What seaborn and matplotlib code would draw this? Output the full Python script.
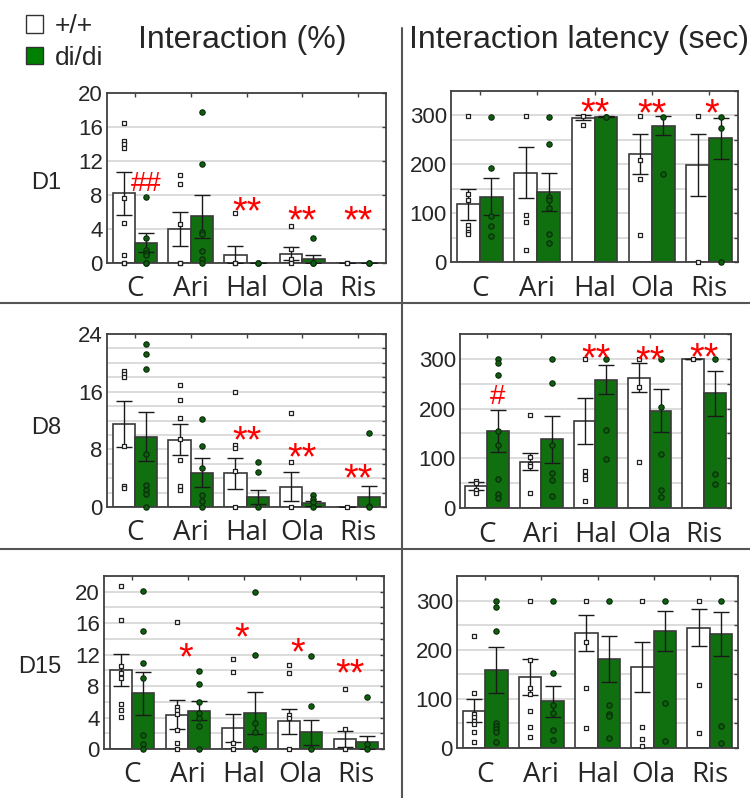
import matplotlib
matplotlib.use("Agg")
import matplotlib.pyplot as plt
import pandas as pd
import seaborn as sns
from matplotlib.container import BarContainer
from matplotlib.lines import Line2D
from matplotlib.patches import Patch
from matplotlib.ticker import MultipleLocator

W, H = 750, 798

DRUGS = ["C", "Ari", "Hal", "Ola", "Ris"]
GENOS = ["+/+", "di/di"]
ROW_LABELS = ["D1", "D8", "D15"]
COL_TITLES = ["Interaction (%)", "Interaction latency (sec)"]

GREEN = "#008000"
DOT_GREEN = "#0d5e0d"
EDGE = "#3a3a3a"

# ---- D1, interaction (%)
d1_int_wt = [8.2, 4.0, 1.0, 1.1, 0.0]
d1_int_wt_sem = [2.5, 2.0, 1.0, 0.75, 0.0]
d1_int_di = [2.4, 5.5, 0.0, 0.45, 0.05]
d1_int_di_sem = [1.1, 2.5, 0.0, 0.5, 0.0]
d1_int_wt_pts = [[16.5, 14.3, 14.0, 13.5, 7.7, 4.7, 1.0, 0, 0],
                 [10.4, 9.3, 4.6, 0, 0], [5.85, 0, 0], [4.4, 1.6, 0.5, 0], [0, 0]]
d1_int_di_pts = [[7.8, 3.0, 1.5, 1.2, 1.0, 0, 0],
                 [17.8, 11.6, 3.7, 3.45, 1.4, 0.5, 0], [0, 0], [3.0, 0, 0], [0, 0]]

# ---- D1, interaction latency (sec)
d1_lat_wt = [118, 183, 295, 221, 199]
d1_lat_wt_sem = [32, 53, 5, 40, 63]
d1_lat_di = [134, 143, 297, 279, 253]
d1_lat_di_sem = [37, 39, 1, 20, 42]
d1_lat_wt_pts = [[299, 140, 126, 75, 67, 61, 57], [299, 97, 81, 24],
                 [299, 281], [299, 209, 169, 56], [299, 0]]
d1_lat_di_pts = [[297, 192, 95, 73, 54], [297, 241, 134, 127, 110, 57, 38],
                 [297, 297], [297, 181], [297, 275, 0]]

# ---- D8, interaction (%)
d8_int_wt = [11.5, 9.3, 4.7, 2.8, 0.0]
d8_int_wt_sem = [3.15, 2.15, 2.15, 2.0, 0.0]
d8_int_di = [9.75, 4.75, 1.4, 0.5, 1.4]
d8_int_di_sem = [3.4, 2.0, 0.95, 0.35, 1.5]
d8_int_wt_pts = [[18.9, 18.4, 18.0, 8.4, 2.9, 2.7],
                 [16.9, 14.9, 12.3, 9.4, 6.5, 2.9, 2.4],
                 [16.0, 8.6, 8.2, 5.0, 0], [13.0, 6.2, 0], [0]]
d8_int_di_pts = [[22.6, 21.2, 19.2, 7.4, 3.0, 2.4, 1.85, 0],
                 [12.2, 8.4, 5.4, 1.7, 0.8, 0], [6.2, 4.8, 0],
                 [1.65, 1.15, 0.65, 0], [10.3, 0.2, 0]]

# ---- D8, interaction latency (sec)
d8_lat_wt = [44, 93, 175, 262, 300]
d8_lat_wt_sem = [8, 17, 47, 29, 0]
d8_lat_di = [155, 138, 258, 196, 231]
d8_lat_di_sem = [42, 47, 29, 44, 45]
d8_lat_wt_pts = [[54, 51, 37, 30], [187, 102, 89, 84, 30],
                 [300, 75, 65, 59, 15], [300, 243, 92], [300]]
d8_lat_di_pts = [[299, 291, 268, 155, 127, 59, 29, 20],
                 [299, 251, 127, 71, 57, 24], [299, 157, 99],
                 [299, 204, 109, 37, 22], [299, 68, 49]]

# ---- D15, interaction (%)
d15_int_wt = [10.05, 4.35, 2.65, 3.5, 1.3]
d15_int_wt_sem = [2.0, 1.85, 1.75, 1.6, 1.0]
d15_int_di = [7.1, 4.85, 4.6, 2.1, 0.85]
d15_int_di_sem = [2.75, 1.2, 2.65, 1.55, 0.85]
d15_int_wt_pts = [[20.7, 16.4, 10.5, 9.7, 9.0, 5.7, 4.9, 4.1],
                  [16.2, 5.3, 5.0, 4.4, 2.45, 0.8, 0],
                  [11.4, 9.85, 0.8, 0], [10.7, 9.7, 4.36, 3.9, 0], [7.6, 2.6, 0]]
d15_int_di_pts = [[20.1, 15.0, 10.9, 9.0, 1.8, 0.6, 0],
                  [9.9, 8.3, 6.0, 4.6, 3.9, 2.9, 0],
                  [20.0, 12.0, 3.3, 2.1, 0], [11.8, 5.45, 0], [6.6, 0.6, 0]]

# ---- D15, interaction latency (sec)
d15_lat_wt = [76, 145, 234, 165, 245]
d15_lat_wt_sem = [24, 37, 36, 51, 37]
d15_lat_di = [158, 95, 181, 238, 232]
d15_lat_di_sem = [47, 32, 47, 41, 45]
d15_lat_wt_pts = [[228, 112, 70, 64, 54, 49, 33, 12],
                  [300, 179, 123, 110, 76, 43, 23],
                  [300, 215, 123, 41], [300, 43, 19, 5], [300, 128, 30]]
d15_lat_di_pts = [[300, 286, 238, 51, 45, 39, 32, 12],
                  [300, 152, 88, 71, 37, 16],
                  [300, 87, 70, 66, 20], [300, 91, 14], [300, 44, 11]]

# significance marks: (drug index, x shift, y centre, text)
d1_int_marks = [(0, 0.2, 9.7, "##"), (2, 0, 7.2, "**"), (3, 0, 6.2, "**"), (4, 0, 6.2, "**")]
d1_lat_marks = [(2, 0, 327, "**"), (3, 0, 325, "**"), (4, 0.05, 325, "*")]
d8_int_marks = [(2, 0, 10.6, "**"), (3, 0, 8.2, "**"), (4, 0, 5.3, "**")]
d8_lat_marks = [(0, 0.2, 230, "#"), (2, 0, 320, "**"), (3, 0, 317, "**"), (4, 0, 322, "**")]
d15_int_marks = [(1, -0.05, 12.85, "*"), (2, -0.05, 15.5, "*"), (3, -0.05, 13.5, "*"), (4, -0.1, 10.9, "**")]
d15_lat_marks = []

panels = [
    (d1_int_wt, d1_int_wt_sem, d1_int_di, d1_int_di_sem, d1_int_wt_pts, d1_int_di_pts, d1_int_marks),
    (d1_lat_wt, d1_lat_wt_sem, d1_lat_di, d1_lat_di_sem, d1_lat_wt_pts, d1_lat_di_pts, d1_lat_marks),
    (d8_int_wt, d8_int_wt_sem, d8_int_di, d8_int_di_sem, d8_int_wt_pts, d8_int_di_pts, d8_int_marks),
    (d8_lat_wt, d8_lat_wt_sem, d8_lat_di, d8_lat_di_sem, d8_lat_wt_pts, d8_lat_di_pts, d8_lat_marks),
    (d15_int_wt, d15_int_wt_sem, d15_int_di, d15_int_di_sem, d15_int_wt_pts, d15_int_di_pts, d15_int_marks),
    (d15_lat_wt, d15_lat_wt_sem, d15_lat_di, d15_lat_di_sem, d15_lat_wt_pts, d15_lat_di_pts, d15_lat_marks),
]

# layout: axes box in pixels (left, top, right, bottom), y max, major step, minor step
layout = [
    ((107, 93, 386, 263), 20, 4, 4),
    ((451, 91, 738, 262), 350, 100, 50),
    ((107, 334, 386, 507), 24, 8, 2),
    ((460, 334, 731, 508), 350, 100, 50),
    ((104, 576, 384, 749), 22, 4, 2),
    ((457, 576, 738, 748), 350, 100, 50),
]

sns.set_theme(style="white")
plt.rcParams["font.family"] = ["Liberation Sans", "DejaVu Sans"]
NARROW = ["Liberation Sans Narrow", "Liberation Sans"]

fig = plt.figure(figsize=(W / 100, H / 100), dpi=100)


def fx(x):
    return x / W


def fy(y):
    return 1 - y / H


for (wt, wt_sem, di, di_sem, wt_pts, di_pts, marks), (box, ymax, major, minor) in zip(panels, layout):
    l, t, r, b = box
    ax = fig.add_axes([fx(l), fy(b), (r - l) / W, (b - t) / H])

    df = pd.DataFrame({
        "drug": DRUGS * 2,
        "geno": [GENOS[0]] * 5 + [GENOS[1]] * 5,
        "value": wt + di,
    })
    sns.barplot(data=df, x="drug", y="value", hue="geno", order=DRUGS, hue_order=GENOS,
                palette={GENOS[0]: "white", GENOS[1]: GREEN}, errorbar=None,
                edgecolor=EDGE, linewidth=1.2, width=0.8, legend=False, ax=ax, zorder=2)

    bar_groups = [c for c in ax.containers if isinstance(c, BarContainer)]
    sems = [wt_sem, di_sem]
    pts = [wt_pts, di_pts]
    for k, cont in enumerate(bar_groups):
        xs = [p.get_x() + p.get_width() / 2 for p in cont.patches]
        ys = [p.get_height() for p in cont.patches]
        ax.errorbar(xs, ys, yerr=sems[k], fmt="none", ecolor="#1a1a1a", elinewidth=1.0,
                    capsize=5.5, capthick=1.0, zorder=4)
        px, py = [], []
        for x, vals in zip(xs, pts[k]):
            px += [x] * len(vals)
            py += vals
        if k == 0:
            ax.scatter(px, py, marker="s", s=11, facecolor="white", edgecolor="#222222",
                       linewidth=0.9, zorder=5, clip_on=False)
        else:
            ax.scatter(px, py, marker="o", s=15, facecolor=DOT_GREEN, edgecolor="#0a2a0a",
                       linewidth=0.8, zorder=5, clip_on=False)

    for i, dx, yc, txt in marks:
        fs = 20 if "#" in txt else 27
        off = 0.36 if "#" in txt else 0.58
        ax.annotate(txt, xy=(i + dx, yc), xytext=(0, -off * fs), textcoords="offset points",
                    ha="center", va="baseline", color="red", fontsize=fs,
                    family=["Liberation Sans", "DejaVu Sans"], zorder=6, annotation_clip=False)

    ax.set_xlim(-0.5, 4.5)
    ax.set_ylim(0, ymax)
    ax.yaxis.set_major_locator(MultipleLocator(major))
    ax.yaxis.set_minor_locator(MultipleLocator(minor))
    ax.grid(True, axis="y", which="both", color="#d6d6d6", linewidth=1.2, zorder=0)
    ax.set_axisbelow(True)
    ax.set_xlabel("")
    ax.set_ylabel("")
    ax.tick_params(axis="both", which="both", direction="in", top=True, right=True,
                   length=3, width=1, color="#404040")
    ax.tick_params(axis="x", pad=9)
    ax.tick_params(axis="y", pad=3, labelsize=16)
    for lab in ax.get_xticklabels():
        lab.set_family(["Open Sans", "DejaVu Sans"])
        lab.set_fontsize(20)
    for sp in ax.spines.values():
        sp.set_color("#404040")
        sp.set_linewidth(1.3)

# row labels and column titles
for lab, y in zip(ROW_LABELS, [183, 428, 667]):
    fig.text(fx(61), fy(y), lab, ha="right", va="center", fontsize=17)
for title, x in zip(COL_TITLES, [138, 409]):
    fig.text(fx(x), fy(48), title, ha="left", va="baseline", fontsize=23, family=NARROW)

# divider lines
fig.add_artist(Line2D([fx(402), fx(402)], [fy(28), fy(H)], color="#555555", lw=1.5))
for y in [303, 549]:
    fig.add_artist(Line2D([0, 1], [fy(y), fy(y)], color="#555555", lw=1.5))

handles = [Patch(facecolor="white", edgecolor="#333333"), Patch(facecolor=GREEN, edgecolor="#333333")]
fig.legend(handles, GENOS, loc="upper left", bbox_to_anchor=(fx(26), fy(14)), frameon=False,
           prop={"family": NARROW, "size": 19}, handlelength=0.65, handleheight=0.65,
           handletextpad=0.45, labelspacing=0.3, borderpad=0, borderaxespad=0)

fig.savefig("out.png", dpi=100)
